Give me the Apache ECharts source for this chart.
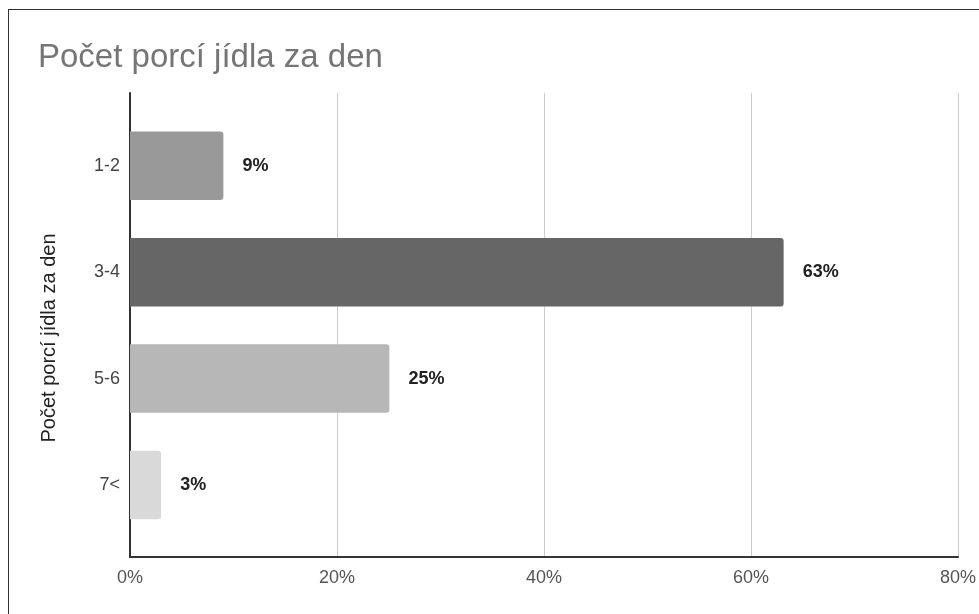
<!DOCTYPE html>
<html>
<head>
<meta charset="utf-8">
<script src="https://cdn.jsdelivr.net/npm/echarts@6/dist/echarts.min.js"></script>
<style>
  html, body { margin: 0; padding: 0; background: #fff; overflow: hidden; }
  #frame { position: absolute; left: 8px; top: 9px; width: 1200px; height: 800px; border: 1px solid #333; box-sizing: border-box; }
  #chart { position: absolute; left: 0; top: 0; width: 979px; height: 614px; }
</style>
</head>
<body>
<div id="frame"></div>
<div id="chart"></div>
<script>
// Portions per day: share of respondents (%)
const categories = ['1-2', '3-4', '5-6', '7<'];
const shares = [9, 63, 25, 3];
const xTicks = { min: 0, max: 80, step: 20 };
const titleText = 'Počet porcí jídla za den';
const axisTitle = 'Počet porcí jídla za den';

// One grey per bar
const barColors = ['#999999', '#666666', '#b7b7b7', '#d9d9d9'];

const FONT = 'Arial, "Liberation Sans", sans-serif';
const chart = echarts.init(document.getElementById('chart'), null, { renderer: 'canvas' });

chart.setOption({
  animation: false,
  title: {
    text: titleText,
    left: 33, top: 36,
    textStyle: { fontFamily: FONT, fontSize: 33, fontWeight: 'normal', color: '#757575' }
  },
  grid: [
    // frame grid: axis lines, gridlines, tick labels
    { left: 130, right: 19, top: 93, bottom: 57 },
    // bar grid: category bands
    { left: 130, right: 19, top: 112.6, bottom: 75.8 }
  ],
  xAxis: [
    {
      gridIndex: 0, type: 'value', min: xTicks.min, max: xTicks.max, interval: xTicks.step,
      axisLine: { show: true, lineStyle: { color: '#333', width: 2 } },
      axisTick: { show: false },
      splitLine: { show: true, lineStyle: { color: '#cccccc', width: 1 } },
      axisLabel: { formatter: '{value}%', margin: 12, fontFamily: FONT, fontSize: 18, color: '#555' }
    },
    {
      gridIndex: 1, type: 'value', min: xTicks.min, max: xTicks.max, interval: xTicks.step,
      show: false
    }
  ],
  yAxis: [
    {
      gridIndex: 0, type: 'value', min: 0, max: 1,
      axisLine: { show: true, lineStyle: { color: '#333', width: 2 } },
      axisTick: { show: false }, axisLabel: { show: false }, splitLine: { show: false }
    },
    {
      gridIndex: 1, type: 'category', data: categories, inverse: true,
      axisLine: { show: false }, axisTick: { show: false }, splitLine: { show: false },
      axisLabel: { margin: 10, fontFamily: FONT, fontSize: 18, color: '#444' }
    }
  ],
  graphic: [{
    type: 'text',
    x: 49, y: 338,
    rotation: Math.PI / 2,
    style: {
      text: axisTitle,
      font: '20px ' + FONT,
      fill: '#222',
      textAlign: 'center',
      textVerticalAlign: 'middle'
    }
  }],
  series: [{
    type: 'bar',
    xAxisIndex: 1, yAxisIndex: 1,
    data: shares.map((v, i) => ({ value: v, itemStyle: { color: barColors[i] } })),
    barWidth: 68.5,
    itemStyle: { borderRadius: [0, 3, 3, 0] },
    label: {
      show: true, position: 'right', distance: 19,
      formatter: '{c}%',
      fontFamily: FONT, fontSize: 18, fontWeight: 'bold', color: '#222'
    }
  }]
});
</script>
</body>
</html>
